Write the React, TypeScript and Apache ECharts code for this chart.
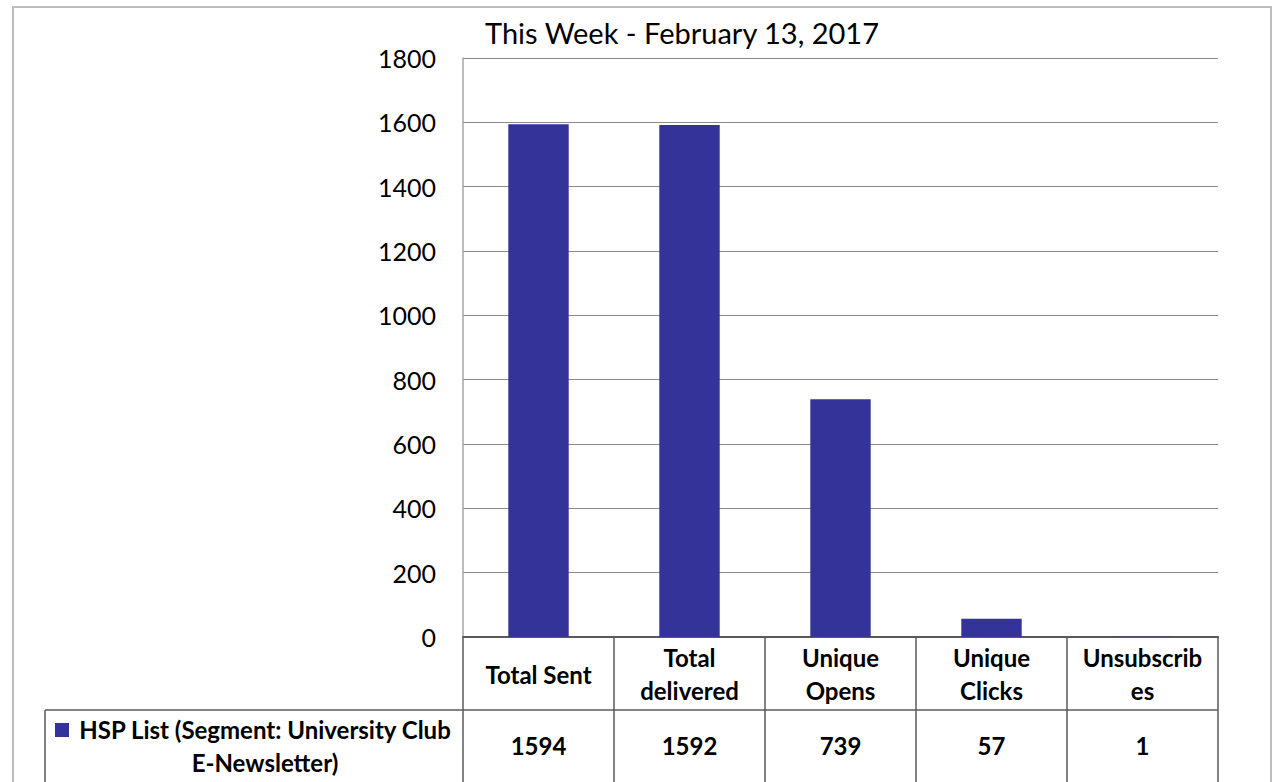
import React, { useEffect, useRef } from "react";
import * as echarts from "echarts";

const titleText = "This Week - February 13, 2017";
const categories = ["Total Sent", "Total delivered", "Unique Opens", "Unique Clicks", "Unsubscribes"];
const categoryLabels = ["Total Sent", "Total\ndelivered", "Unique\nOpens", "Unique\nClicks", "Unsubscrib\nes"];
const seriesName = "HSP List (Segment: University Club E-Newsletter)";
const seriesLabel = "HSP List (Segment: University Club\nE-Newsletter)";
const values = [1594, 1592, 739, 57, 1];
const yTicks = { min: 0, max: 1800, interval: 200 };

const FONT = "Lato, 'Open Sans', sans-serif";
const BAR = "#333399";
const LINE = "#5a5a5a";

export default function App() {
  const ref = useRef<HTMLDivElement>(null);
  useEffect(() => {
    if (!ref.current) return;
    const chart = echarts.init(ref.current, null, { renderer: "svg" });
    const H = 782;
    const gLeft = 463, gRight = 1218, gTop = 58, gBottom = 637;
    const rowDiv = 710;
    chart.setOption({
      animation: false,
      backgroundColor: "#ffffff",
      textStyle: { fontFamily: FONT },
      grid: { left: gLeft, top: gTop, width: gRight - gLeft, height: gBottom - gTop, containLabel: false },
      xAxis: [
        {
          type: "category",
          data: categories,
          position: "bottom",
          axisLine: { show: true, lineStyle: { color: LINE, width: 2 } },
          axisTick: { show: true, interval: 0, length: H - gBottom + 10, lineStyle: { color: LINE, width: 1.5 } },
          axisLabel: {
            interval: 0,
            margin: 37,
            verticalAlign: "middle",
            color: "#000",
            fontFamily: FONT,
            fontWeight: "bold",
            fontSize: 24,
            lineHeight: 33,
            formatter: (_v: string, i: number) => categoryLabels[i],
          },
          splitLine: { show: false },
        },
        {
          type: "category",
          data: values.map(String),
          position: "bottom",
          offset: rowDiv - gBottom,
          axisLine: { show: false },
          axisTick: { show: false },
          axisLabel: {
            interval: 0,
            margin: 35,
            verticalAlign: "middle",
            color: "#000",
            fontFamily: FONT,
            fontWeight: "bold",
            fontSize: 24,
          },
          splitLine: { show: false },
        },
      ],
      yAxis: {
        type: "value",
        min: yTicks.min,
        max: yTicks.max,
        interval: yTicks.interval,
        axisLine: { show: true, lineStyle: { color: "#a6a6a6", width: 1.5 } },
        axisTick: { show: false },
        axisLabel: { color: "#000", fontFamily: FONT, fontSize: 25, margin: 27, formatter: (v: number) => String(v) },
        splitLine: { show: true, lineStyle: { color: "#8c8c8c", width: 1 } },
      },
      series: [
        {
          name: seriesName,
          type: "bar",
          xAxisIndex: 0,
          data: values,
          barWidth: "40%",
          itemStyle: { color: BAR },
        },
      ],
      graphic: [
        {
          type: "rect",
          shape: { x: 13, y: 7, width: 1258, height: 800 },
          style: { fill: "none", stroke: "#bdbdbd", lineWidth: 2 },
          silent: true,
          z: -1,
        },
        {
          type: "text",
          x: 682,
          y: 32,
          style: { text: titleText, fill: "#000", font: `29px ${FONT}`, textAlign: "center", textVerticalAlign: "middle" },
        },
        {
          type: "line",
          shape: { x1: 45, y1: rowDiv, x2: gRight, y2: rowDiv },
          style: { stroke: LINE, lineWidth: 1.5 },
        },
        {
          type: "line",
          shape: { x1: 45, y1: rowDiv, x2: 45, y2: H + 10 },
          style: { stroke: LINE, lineWidth: 1.5 },
        },
        {
          type: "rect",
          shape: { x: 55, y: 723, width: 14, height: 14 },
          style: { fill: BAR },
        },
        {
          type: "text",
          x: 265,
          y: 746,
          style: {
            text: seriesLabel,
            fill: "#000",
            font: `bold 24px ${FONT}`,
            lineHeight: 33,
            textAlign: "center",
            textVerticalAlign: "middle",
          },
        },
      ],
    });
    return () => chart.dispose();
  }, []);
  return <div ref={ref} style={{ position: "fixed", left: 0, top: 0, width: 1274, height: 782 }} />;
}
